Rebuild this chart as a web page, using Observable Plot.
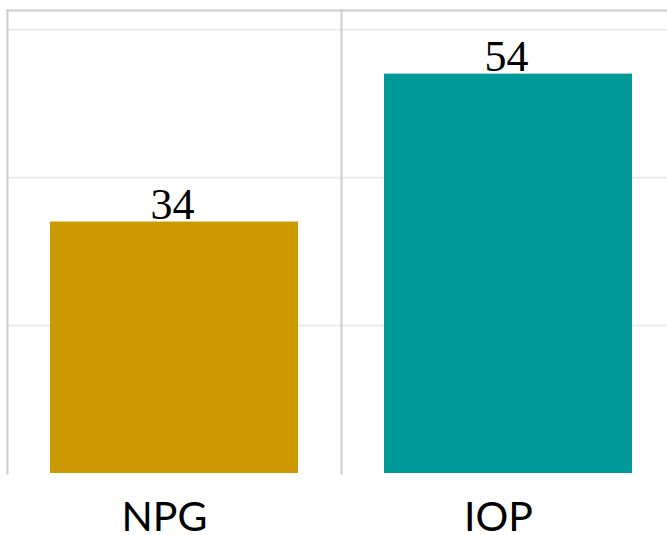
<!DOCTYPE html>
<html>
<head>
<meta charset="utf-8">
<script src="https://cdn.jsdelivr.net/npm/d3@7"></script>
<script src="https://cdn.jsdelivr.net/npm/@observablehq/plot@0.6"></script>
<style>
  html, body { margin: 0; padding: 0; background: #ffffff; }
  #chart svg { display: block; }
</style>
</head>
<body>
<div id="chart"></div>
<script>
const categories = ["NPG", "IOP"];
const values = [34, 54];
const colors = ["#CC9900", "#009999"];
const gridTicks = [20, 40, 60];

const data = categories.map((c, i) => ({category: c, value: values[i], color: colors[i]}));

const chart = Plot.plot({
  width: 667,
  height: 535,
  marginLeft: 7,
  marginRight: -8,
  marginTop: 10,
  marginBottom: 62,
  style: {background: "#ffffff"},
  fx: {domain: categories, padding: 0, axis: null},
  y: {domain: [0, 62.6], axis: null},
  color: {type: "identity"},
  marks: [
    Plot.ruleY(gridTicks, {stroke: "#ebebeb", strokeWidth: 2}),
    Plot.frame({anchor: "left", stroke: "#cccccc", strokeWidth: 2}),
    Plot.frame({anchor: "top", stroke: "#cccccc", strokeWidth: 2}),
    Plot.barY(data, {fx: "category", y: "value", fill: "color", insetLeft: 43, insetRight: 43}),
    Plot.text(data, {fx: "category", y: "value", text: d => String(d.value), lineAnchor: "bottom", dy: -3, dx: -2,
      fontFamily: "Liberation Serif", fontSize: 44, fill: "#000000"}),
    Plot.text(data, {fx: "category", text: "category", frameAnchor: "bottom", lineAnchor: "bottom", dy: 57, dx: -10,
      fontFamily: "Lato", fontSize: 41, fill: "#000000"})
  ]
});
document.getElementById("chart").appendChild(chart);
</script>
</body>
</html>
